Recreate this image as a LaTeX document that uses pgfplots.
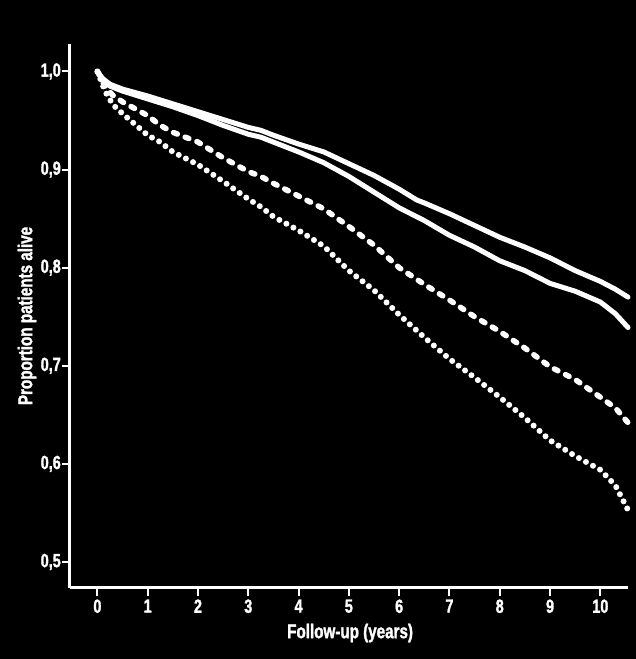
\documentclass[border=0pt]{standalone}
\usepackage{pgfplots}
\pgfplotsset{compat=1.18}
\usepackage{fontspec}
\setmainfont{Liberation Sans}[FakeStretch=0.76, BoldFont={Liberation Sans Bold}, BoldFeatures={FakeStretch=0.76, FakeBold=1.5}]
\begin{document}
\begin{tikzpicture}
\fill[black] (0,0) rectangle (636pt,659pt);
\useasboundingbox (0,0) rectangle (636pt,659pt);
\begin{axis}[
  at={(70pt,71pt)}, anchor=south west,
  scale only axis, width=558pt, height=544pt,
  xmin=-0.545, xmax=10.55, ymin=0.4735, ymax=1.028,
  axis lines=left, axis line style={-, white, line width=3pt},
  tick align=outside, major tick length=8pt,
  tick style={white, line width=2pt},
  xtick={0,1,...,10}, ytick={0.5,0.6,...,1.0},
  minor tick num=0,
  yticklabel style={/pgf/number format/use comma, /pgf/number format/fixed, /pgf/number format/fixed zerofill, /pgf/number format/precision=1, inner sep=1pt},
  /pgf/number format/assume math mode=true,
  ticklabel style={white, font=\fontsize{19}{21}\selectfont\bfseries},
  xlabel={Follow-up (years)},
  ylabel={Proportion patients alive},
  label style={white, font=\fontsize{20}{22}\selectfont\bfseries},
  xlabel style={at={(axis description cs:0.502,0)}, anchor=center, yshift=-45pt},
  ylabel style={at={(axis description cs:0,0.5)}, anchor=center, yshift=43pt},
  clip=false,
]
\addplot[white, line width=5pt, line join=round, line cap=round] coordinates {
(0,1.0) (0.1,0.993) (0.25,0.987) (0.5,0.982) (1,0.975) (1.25,0.971) (1.5,0.967) (2,0.959) (2.5,0.951) (3,0.943) (3.25,0.940) (3.5,0.935) (4,0.926) (4.5,0.918) (5,0.906) (5.5,0.894) (6,0.880) (6.35,0.869) (6.5,0.866) (7,0.855) (7.5,0.843) (8,0.831) (8.5,0.821) (9,0.810) (9.5,0.797) (10,0.786) (10.3,0.778) (10.55,0.770)
};
\addplot[white, line width=5pt, line join=round, line cap=round] coordinates {
(0,1.0) (0.1,0.992) (0.25,0.985) (0.5,0.980) (1,0.972) (1.25,0.968) (1.5,0.964) (2,0.955) (2.5,0.945) (3,0.936) (3.25,0.933) (3.5,0.928) (4,0.918) (4.5,0.907) (5,0.893) (5.5,0.877) (6,0.861) (6.5,0.848) (7,0.833) (7.5,0.821) (8,0.807) (8.5,0.797) (9,0.784) (9.5,0.776) (10,0.765) (10.3,0.753) (10.55,0.739)
};
\addplot[white, line width=5.5pt, line cap=round, dash pattern=on 4pt off 8.5pt] coordinates {
(0,1.0) (0.15,0.985) (0.3,0.976) (0.5,0.969) (1,0.955) (1.25,0.945) (1.5,0.938) (2,0.928) (2.5,0.912) (3,0.898) (3.25,0.893) (3.5,0.886) (4,0.873) (4.5,0.860) (5,0.842) (5.5,0.823) (6,0.800) (6.5,0.783) (7,0.767) (7.5,0.750) (8,0.735) (8.5,0.718) (9,0.699) (9.5,0.686) (10,0.668) (10.3,0.657) (10.55,0.642)
};
\addplot[white, line width=6pt, line cap=round, dash pattern=on 0pt off 8pt] coordinates {
(0,1.0) (0.15,0.98) (0.31,0.966) (0.5,0.957) (1,0.935) (1.25,0.928) (1.5,0.918) (2,0.905) (2.5,0.888) (3,0.870) (3.25,0.862) (3.5,0.852) (4,0.838) (4.5,0.822) (5,0.797) (5.5,0.777) (6,0.752) (6.5,0.729) (7,0.707) (7.5,0.688) (8,0.668) (8.5,0.647) (9,0.624) (9.5,0.608) (10,0.594) (10.3,0.578) (10.55,0.553)
};
\end{axis}
\end{tikzpicture}
\end{document}
